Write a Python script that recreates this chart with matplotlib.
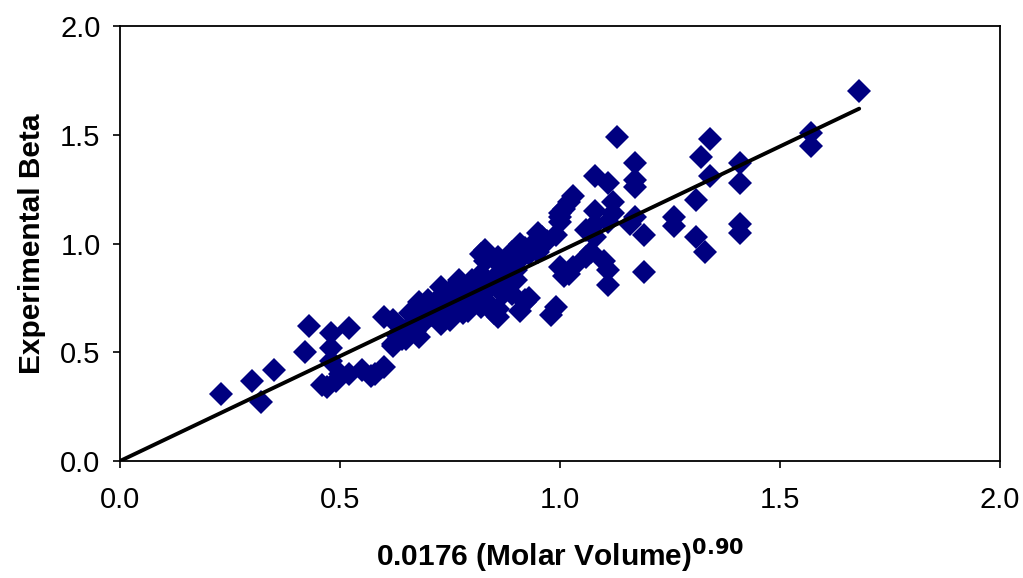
# Experimental beta vs. scaled molar volume
# ============================================================

import matplotlib
matplotlib.use("Agg")
import matplotlib.pyplot as plt

plt.rcParams['font.family'] = ['Liberation Sans', 'DejaVu Sans']

# scaled molar volume, 0.0176 * Vm^0.90
vol = [0.23, 0.30, 0.32, 0.35, 0.42, 0.43, 0.46, 0.48, 0.52, 0.48,
       0.48, 0.49, 0.52, 0.47, 0.57, 0.60, 0.60, 0.62, 0.62, 0.64,
       0.62, 0.68, 0.68, 0.73, 0.73, 0.76, 0.77, 0.80, 0.83, 0.83,
       0.84, 0.82, 0.85, 0.82, 0.82, 0.86, 0.91, 0.95, 1.00, 1.02,
       1.06, 1.00, 1.01, 0.99, 0.98, 0.93, 0.87, 0.83, 0.91, 1.08,
       1.10, 1.08, 0.86, 1.13, 1.17, 1.17, 1.17, 1.08, 1.11, 1.03,
       1.01, 1.00, 1.00, 1.12, 1.12, 1.11, 1.08, 1.06, 1.17, 1.16,
       1.19, 1.26, 1.26, 1.31, 1.31, 1.33, 1.34, 1.32, 1.34, 1.41,
       1.41, 1.41, 1.41, 1.19, 1.11, 1.11, 0.92, 0.96, 0.95, 1.02,
       1.03, 1.07, 0.89, 0.90, 0.92, 0.88, 1.68, 1.57, 1.57, 0.68,
       0.66, 0.67, 0.65, 0.73, 0.75, 0.77, 0.79, 0.82, 0.86, 0.89,
       0.92, 0.95, 0.86, 0.89, 0.70, 0.72, 0.74, 0.76, 0.78, 0.79,
       0.80, 0.81, 0.84, 0.85, 0.86, 0.87, 0.88, 0.90, 0.91, 0.93,
       0.94, 0.97, 0.99, 0.69, 0.71, 0.63, 0.66, 0.80, 0.78, 0.72,
       0.58, 0.55, 0.50]

# measured beta
beta = [0.31, 0.37, 0.27, 0.42, 0.50, 0.62, 0.35, 0.59, 0.61, 0.52,
        0.46, 0.37, 0.40, 0.34, 0.39, 0.43, 0.66, 0.65, 0.53, 0.56,
        0.54, 0.71, 0.57, 0.76, 0.63, 0.80, 0.71, 0.83, 0.92, 0.97,
        0.71, 0.79, 0.68, 0.95, 0.86, 0.94, 1.00, 1.05, 1.14, 1.19,
        0.94, 0.89, 0.85, 0.71, 0.67, 0.75, 0.77, 0.74, 0.69, 1.03,
        0.92, 1.15, 0.70, 1.49, 1.37, 1.29, 1.26, 1.31, 1.28, 1.22,
        1.16, 1.12, 1.10, 1.19, 1.14, 1.10, 1.09, 1.06, 1.12, 1.09,
        1.04, 1.12, 1.08, 1.20, 1.03, 0.96, 1.48, 1.40, 1.31, 1.37,
        1.28, 1.09, 1.05, 0.87, 0.88, 0.81, 0.98, 1.03, 0.96, 0.86,
        0.89, 0.96, 0.91, 0.83, 0.74, 0.79, 1.70, 1.51, 1.45, 0.73,
        0.68, 0.60, 0.56, 0.80, 0.65, 0.83, 0.69, 0.71, 0.66, 0.77,
        0.73, 1.02, 0.91, 0.96, 0.74, 0.70, 0.72, 0.76, 0.78, 0.74,
        0.78, 0.80, 0.80, 0.84, 0.82, 0.86, 0.84, 0.88, 0.93, 0.95,
        0.99, 1.01, 1.04, 0.64, 0.67, 0.58, 0.62, 0.72, 0.68, 0.66,
        0.40, 0.42, 0.40]

# correlation line
fit_x = [0.0, 1.68]
fit_y = [0.0, 1.62]

ticks = [0.0, 0.5, 1.0, 1.5, 2.0]

fig = plt.figure(figsize=(10.23, 5.78), dpi=100)
ax = fig.add_axes([0.1173, 0.2024, 0.8602, 0.7526])

ax.plot(vol, beta, linestyle='none', marker='D', markersize=12,
        color='#000080', markeredgewidth=0)
ax.plot(fit_x, fit_y, color='black', linewidth=2.8, solid_capstyle='round')

ax.set_xlim(0, 2)
ax.set_ylim(0, 2)
ax.set_xticks(ticks)
ax.set_yticks(ticks)
ax.set_xticklabels([f"{t:.1f}" for t in ticks])
ax.set_yticklabels([f"{t:.1f}" for t in ticks])
ax.tick_params(direction='out', length=5, width=1.2, labelsize=21, pad=9,
               top=False, right=False)
ax.tick_params(axis='x', pad=13)
for s in ax.spines.values():
    s.set_linewidth(1.3)

ax.set_xlabel(r"0.0176 (Molar Volume)$^{\mathbf{0.90}}$", fontsize=21.5,
              fontweight='bold', labelpad=16)
ax.set_ylabel("Experimental Beta", fontsize=21.5, fontweight='bold', labelpad=10)

fig.savefig("out.png", dpi=100)
